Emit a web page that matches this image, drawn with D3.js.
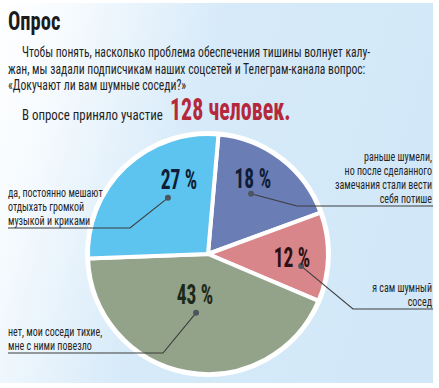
<!DOCTYPE html>
<html>
<head>
<meta charset="utf-8">
<script src="https://cdn.jsdelivr.net/npm/d3@7"></script>
<style>
body { margin: 0; background: #fff; }
</style>
</head>
<body>
<svg id="chart"></svg>
<script>
var screen = {width: 439, height: 388};

// answers, clockwise from the top
var categories = ["раньше шумели", "я сам шумный сосед", "нет, мои соседи тихие", "да, постоянно мешают"];
var labelLines = [
    ["раньше шумели,", "но после сделанного", "замечания стали вести", "себя потише"],
    ["я сам шумный", "сосед"],
    ["нет, мои соседи тихие,", "мне с ними повезло"],
    ["да, постоянно мешают", "отдыхать громкой", "музыкой и криками"]
];
var values = [18, 12, 43, 27];
var sliceColors = ["#6a7db5", "#d9868a", "#93a389", "#5dc3ef"];
var valueColors = ["#0f1c36", "#2d1012", "#1c2818", "#0f1c36"];

var title = "Опрос";
var introLines = [
    "Чтобы понять, насколько проблема обеспечения тишины волнует калу-",
    "жан, мы задали подписчикам наших соцсетей и Телеграм-канала вопрос:",
    "«Докучают ли вам шумные соседи?»"
];
var totalText = "В опросе приняло участие";
var totalCount = "128 человек.";

// where the callouts sit, in degrees clockwise from 12 o'clock
var callouts = [
    {labelAngle: 30.6, labelR: 88, dotAngle: 35.6, dotR: 74, elbowX: 297, lineY: 206, side: "right"},
    {labelAngle: 92.4, labelR: 84, dotAngle: 97.4, dotR: 94, elbowX: 353, lineY: 309, side: "right"},
    {labelAngle: 197.6, labelR: 43, dotAngle: 191.5, dotR: 60, elbowX: 163, lineY: 353, side: "left"},
    {labelAngle: 338.6, labelR: 79.5, dotAngle: 324.5, dotR: 69, elbowX: 130, lineY: 228, side: "left"}
];

var center = {x: 208, y: 254};
var radius = 118;
var font = "'Roboto Condensed', 'Liberation Sans Narrow', Roboto, sans-serif";

var svg = d3.select("#chart")
    .attr("width", screen.width)
    .attr("height", screen.height)

var grad = svg.append("defs")
    .append("linearGradient")
    .attr("id", "bg")
    .attr("x1", 0).attr("y1", 0)
    .attr("x2", 1).attr("y2", 0.25)
grad.append("stop").attr("offset", 0).attr("stop-color", "#ffffff")
grad.append("stop").attr("offset", 0.15).attr("stop-color", "#f7fbfe")
grad.append("stop").attr("offset", 0.5).attr("stop-color", "#d6eaf9")
grad.append("stop").attr("offset", 1).attr("stop-color", "#d2e8f8")

svg.append("rect")
    .attr("x", 0)
    .attr("y", 3)
    .attr("width", 433)
    .attr("height", 380)
    .attr("fill", "url(#bg)")

// squeeze text horizontally to look like the condensed face
var condensed = function(sel, x, y, k)
{
    sel.attr("x", 0).attr("y", 0)
        .attr("transform", "translate(" + x + "," + y + ") scale(" + k + ",1)")
    return sel
}

svg.append("text")
    .text(title)
    .style("font-family", font)
    .style("font-weight", "bold")
    .style("font-size", "25px")
    .attr("fill", "#1b1b1b")
    .call(condensed, 8, 30, 0.82)

var introY = [57, 74, 90];
svg.selectAll(".intro")
    .data(introLines)
    .enter()
    .append("text")
    .attr("class", "intro")
    .text(function(d) { return d })
    .style("font-family", font)
    .style("font-size", "14px")
    .attr("fill", "#1f1f1f")
    .each(function(d, i) {
        d3.select(this).call(condensed, i == 0 ? 22 : 8, introY[i], 0.83)
    })

svg.append("text")
    .style("font-family", font)
    .style("font-size", "15px")
    .attr("fill", "#1f1f1f")
    .text(totalText)
    .call(condensed, 22, 120, 0.86)

svg.append("text")
    .style("font-family", font)
    .style("font-size", "31px")
    .style("font-weight", "bold")
    .attr("fill", "#b5283b")
    .text(totalCount)
    .call(condensed, 170, 120, 0.71)

// pie
var rad = Math.PI / 180
var pie = d3.pie()
    .sort(null)
    .value(function(d) { return d })
    .startAngle(5 * rad)
    .endAngle(365 * rad)

var arc = d3.arc()
    .innerRadius(0)
    .outerRadius(radius + 2)

var g = svg.append("g")
    .attr("transform", "translate(" + center.x + "," + center.y + ")")

g.append("circle")
    .attr("r", radius + 5)
    .attr("fill", "#ffffff")

g.selectAll(".slice")
    .data(pie(values))
    .enter()
    .append("path")
    .attr("class", "slice")
    .attr("d", arc)
    .attr("fill", function(d, i) { return sliceColors[i] })
    .attr("stroke", "#ffffff")
    .attr("stroke-width", 4)
    .attr("stroke-linejoin", "round")

var polar = function(angle, r)
{
    return [center.x + r * Math.sin(angle * rad), center.y - r * Math.cos(angle * rad)]
}

// leader lines and dots
callouts.forEach(function(c, i) {
    var dot = polar(c.dotAngle, c.dotR)
    var endX = c.side == "right" ? 433 : 8
    svg.append("polyline")
        .attr("points", [dot, [c.elbowX, c.lineY], [endX, c.lineY]].join(" "))
        .attr("fill", "none")
        .attr("stroke", "#3c3c3c")
        .attr("stroke-width", 1.1)
    svg.append("circle")
        .attr("cx", dot[0])
        .attr("cy", dot[1])
        .attr("r", 3)
        .attr("fill", "#4d5560")

    var lines = labelLines[i]
    lines.forEach(function(line, j) {
        var y = c.lineY - 3.5 - (lines.length - 1 - j) * 13.7
        svg.append("text")
            .text(line)
            .style("font-family", font)
            .style("font-size", "12.5px")
            .attr("fill", "#262626")
            .attr("text-anchor", c.side == "right" ? "end" : "start")
            .call(condensed, c.side == "right" ? 432 : 8, y, 0.8)
    })

    var lp = polar(c.labelAngle, c.labelR)
    svg.append("text")
        .text(values[i] + " %")
        .style("font-family", font)
        .style("font-weight", "bold")
        .style("font-size", "27px")
        .attr("fill", valueColors[i])
        .attr("text-anchor", "middle")
        .attr("dy", "0.35em")
        .call(condensed, lp[0], lp[1], 0.72)
})
</script>
</body>
</html>
